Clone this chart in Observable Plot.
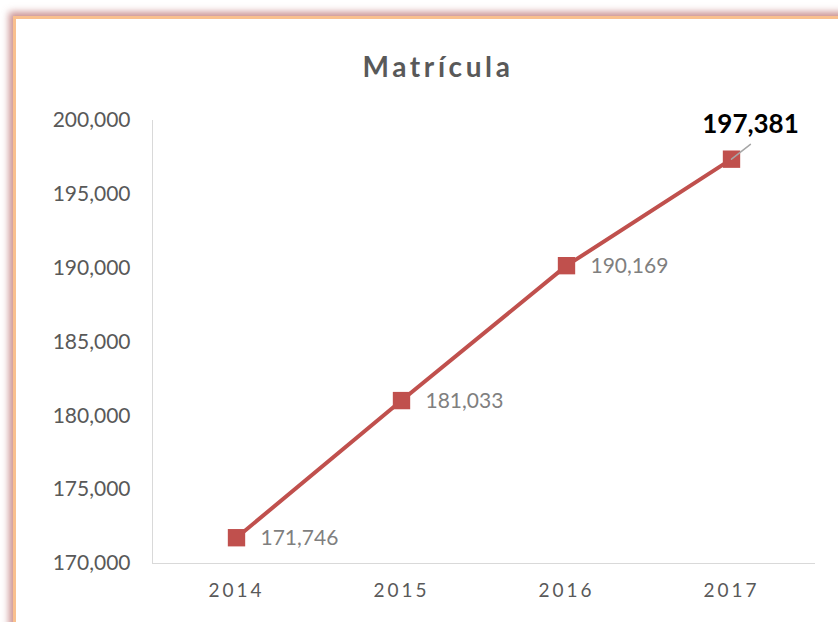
<!DOCTYPE html>
<html>
<head>
<meta charset="utf-8">
<script src="https://cdn.jsdelivr.net/npm/d3@7"></script>
<script src="https://cdn.jsdelivr.net/npm/@observablehq/plot@0.6"></script>
<style>
  html, body { margin: 0; padding: 0; width: 838px; height: 622px; overflow: hidden; background: #fff; }
  #frame { position: absolute; left: 13px; top: 16px; width: 900px; height: 700px; border: 3px solid #F9C08E; box-shadow: 0 0 7px 4px rgba(185, 110, 110, 0.75); background: #fff; }
  #title { position: absolute; left: 0; top: 49px; width: 876px; text-align: center; font-family: Lato, "Noto Sans", sans-serif; font-weight: bold; font-size: 28px; letter-spacing: 3.6px; color: #595959; }
  #chart { position: absolute; left: 0; top: 100px; }
</style>
</head>
<body>
<div id="frame"></div>
<div id="title">Matrícula</div>
<div id="chart"></div>
<script>
const years = ["2014", "2015", "2016", "2017"];
const enrollment = [171746, 181033, 190169, 197381];
const yTicks = [170000, 175000, 180000, 185000, 190000, 195000, 200000];

const data = years.map((year, i) => ({year, value: enrollment[i]}));
const rest = data.slice(0, -1);
const last = data.slice(-1);
const fmt = d3.format(",");

const chart = Plot.plot({
  width: 838,
  height: 522,
  marginLeft: 152,
  marginRight: 24,
  marginTop: 20,
  marginBottom: 59,
  style: {fontFamily: "Lato, 'Noto Sans', sans-serif", background: "transparent", overflow: "visible"},
  x: {type: "point", domain: years, padding: 0.5, label: null},
  y: {domain: [170000, 200000], label: null},
  marks: [
    Plot.frame({anchor: "left", stroke: "#d9d9d9"}),
    Plot.frame({anchor: "bottom", stroke: "#d9d9d9"}),
    Plot.axisY({ticks: yTicks, tickSize: 0, tickPadding: 22, tickFormat: fmt, fontSize: 21, fill: "#595959", label: null}),
    Plot.axisX({tickSize: 0, tickPadding: 20, fontSize: 19, fill: "#595959", label: null}),
    Plot.line(data, {x: "year", y: "value", stroke: "#C0504D", strokeWidth: 4}),
    Plot.dot(data, {x: "year", y: "value", symbol: "square", r: 9.8, fill: "#C0504D"}),
    Plot.text(rest, {x: "year", y: "value", text: d => fmt(d.value), textAnchor: "start", dx: 24, dy: 1, fontSize: 21, fill: "#7f7f7f"}),
    Plot.vector(last, {x: "year", y: "value", length: 24, rotate: 52, anchor: "start", stroke: "#a6a6a6", strokeWidth: 1.5,
      shape: {draw(ctx, l) { ctx.moveTo(0, 0); ctx.lineTo(0, -l); }}}),
    Plot.text(last, {x: "year", y: "value", text: d => fmt(d.value), dx: 19, dy: -35, fontSize: 26, fontWeight: "bold", fill: "#000"})
  ]
});
document.getElementById("chart").appendChild(chart);
chart.querySelectorAll("[aria-label='x-axis tick label'] text").forEach(t => t.setAttribute("letter-spacing", "3"));
</script>
</body>
</html>
